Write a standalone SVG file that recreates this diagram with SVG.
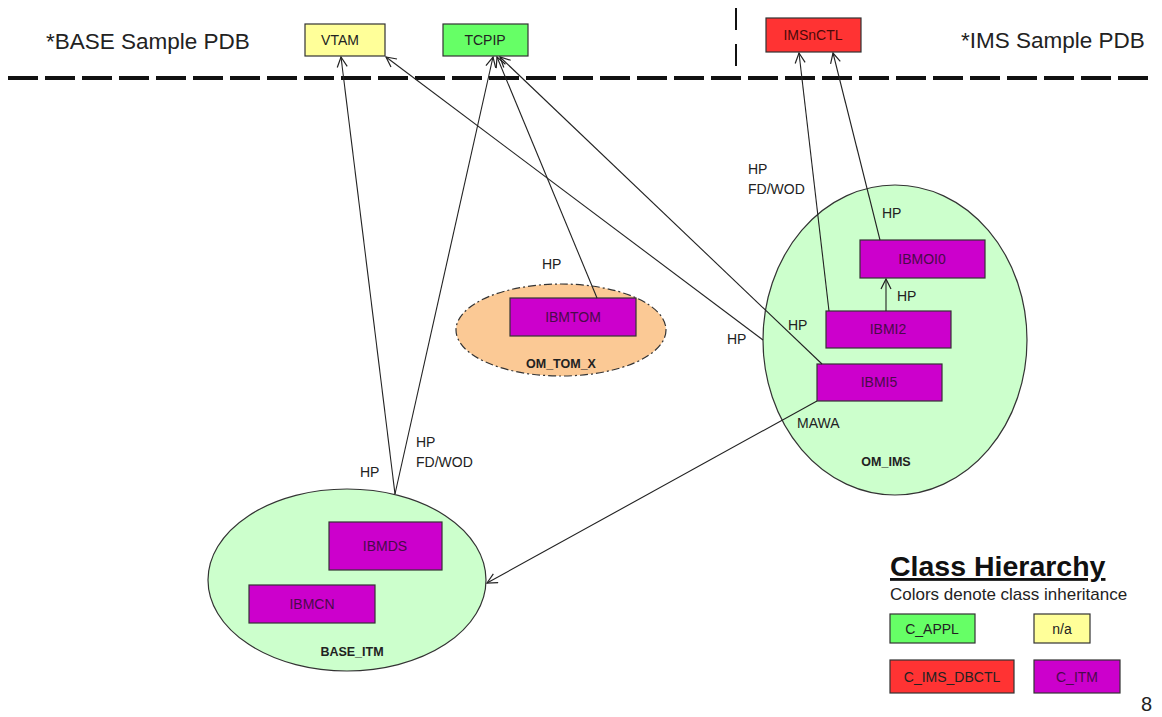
<svg xmlns="http://www.w3.org/2000/svg" width="1162" height="717" viewBox="0 0 1162 717">
<defs>
<marker id="arr" viewBox="0 0 12 12" refX="11" refY="6" markerWidth="12" markerHeight="12" markerUnits="userSpaceOnUse" orient="auto">
<path d="M1,1 L11,6 L1,11" fill="none" stroke="#222" stroke-width="1.2"/>
</marker>
<style>
text{font-family:"Liberation Sans",Arial,sans-serif;fill:#222}
.box{stroke:#333;stroke-width:1.2}
.yel{fill:#ffff99}.grn{fill:#66ff66}.red{fill:#ff3333}.pur{fill:#cc00cc}
.lbl{font-size:14px;text-anchor:middle}
.plbl{font-size:14px;text-anchor:middle;fill:#4a0a4a}
.edge{font-size:14px}
.grp{font-size:12.5px;font-weight:bold;text-anchor:middle}
.con{stroke:#222;stroke-width:1.1;fill:none;marker-end:url(#arr)}
</style>
</defs>
<rect width="1162" height="717" fill="#fff"/>

<g id="headers">
<text x="46" y="49" font-size="22.5">*BASE Sample PDB</text>
<text x="961" y="48" font-size="22.5">*IMS Sample PDB</text>
<line x1="8" y1="78" x2="1152" y2="78" stroke="#111" stroke-width="4" stroke-dasharray="30,7"/>
<line x1="736" y1="8" x2="736" y2="72" stroke="#111" stroke-width="2" stroke-dasharray="22,14"/>
</g>

<g id="VTAM"><rect class="box yel" x="305" y="24" width="80" height="32"/><text class="lbl" x="340" y="45">VTAM</text></g>
<g id="TCPIP"><rect class="box grn" x="443" y="24" width="85" height="32"/><text class="lbl" x="485" y="45">TCPIP</text></g>
<g id="IMSnCTL"><rect class="box red" x="766" y="18" width="95" height="34"/><text class="lbl" x="813" y="40" style="fill:#4a0a0a">IMSnCTL</text></g>

<g id="OM_TOM_X">
<ellipse cx="561" cy="330" rx="105" ry="46" fill="#fbc995" stroke="#333" stroke-width="1.2" stroke-dasharray="8,3,2,3"/>
<text class="grp" x="561" y="368">OM_TOM_X</text>
</g>
<g id="IBMTOM"><rect class="box pur" x="510" y="298" width="126" height="38"/><text class="plbl" x="573" y="322">IBMTOM</text></g>

<g id="OM_IMS">
<ellipse cx="895" cy="340" rx="132" ry="155" fill="#ccffcc" stroke="#333" stroke-width="1.2"/>
<text class="grp" x="886" y="466">OM_IMS</text>
</g>
<g id="IBMOI0"><rect class="box pur" x="860" y="240" width="125" height="38"/><text class="plbl" x="922" y="264">IBMOI0</text></g>
<g id="IBMI2"><rect class="box pur" x="826" y="311" width="125" height="37"/><text class="plbl" x="888" y="334">IBMI2</text></g>
<g id="IBMI5"><rect class="box pur" x="817" y="364" width="125" height="37"/><text class="plbl" x="879" y="387">IBMI5</text></g>

<g id="BASE_ITM">
<ellipse cx="347" cy="580" rx="139" ry="91" fill="#ccffcc" stroke="#333" stroke-width="1.2"/>
<text class="grp" x="352" y="656">BASE_ITM</text>
</g>
<g id="IBMDS"><rect class="box pur" x="329" y="522" width="113" height="48"/><text class="plbl" x="385" y="551">IBMDS</text></g>
<g id="IBMCN"><rect class="box pur" x="249" y="585" width="126" height="38"/><text class="plbl" x="312" y="609">IBMCN</text></g>

<g id="connectors">
<line class="con" x1="395" y1="494" x2="341" y2="57"/>
<line class="con" x1="395" y1="494" x2="493" y2="57"/>
<line class="con" x1="597" y1="298" x2="497" y2="57"/>
<line class="con" x1="763" y1="340" x2="386" y2="57"/>
<line class="con" x1="822" y1="364" x2="500" y2="57"/>
<line class="con" x1="829" y1="311" x2="799" y2="53"/>
<line class="con" x1="880" y1="240" x2="833" y2="53"/>
<line class="con" x1="886" y1="311" x2="886" y2="279"/>
<line class="con" x1="817" y1="401" x2="487" y2="583"/>
</g>

<g id="edge-labels">
<text class="edge" x="542" y="269">HP</text>
<text class="edge" x="727" y="344">HP</text>
<text class="edge" x="788" y="330">HP</text>
<text class="edge" x="882" y="218">HP</text>
<text class="edge" x="897" y="301">HP</text>
<text class="edge" x="748" y="174">HP</text>
<text class="edge" x="748" y="194">FD/WOD</text>
<text class="edge" x="797" y="428">MAWA</text>
<text class="edge" x="360" y="477">HP</text>
<text class="edge" x="416" y="447">HP</text>
<text class="edge" x="416" y="467">FD/WOD</text>
</g>

<g id="legend">
<text x="890" y="576" font-size="28.5" font-weight="bold" text-decoration="underline" style="fill:#111">Class Hierarchy</text>
<text x="890" y="600" font-size="17">Colors denote class inheritance</text>
<rect class="box grn" x="890" y="614" width="85" height="29"/><text class="lbl" x="932" y="634" font-size="15">C_APPL</text>
<rect class="box yel" x="1034" y="614" width="56" height="29"/><text class="lbl" x="1062" y="634">n/a</text>
<rect class="box red" x="890" y="660" width="124" height="33"/><text class="lbl" x="952" y="682" font-size="15">C_IMS_DBCTL</text>
<rect class="box pur" x="1034" y="660" width="86" height="33"/><text class="lbl" x="1077" y="682" font-size="15" style="fill:#4a0a4a">C_ITM</text>
<text x="1141" y="711" font-size="20">8</text>
</g>
</svg>
